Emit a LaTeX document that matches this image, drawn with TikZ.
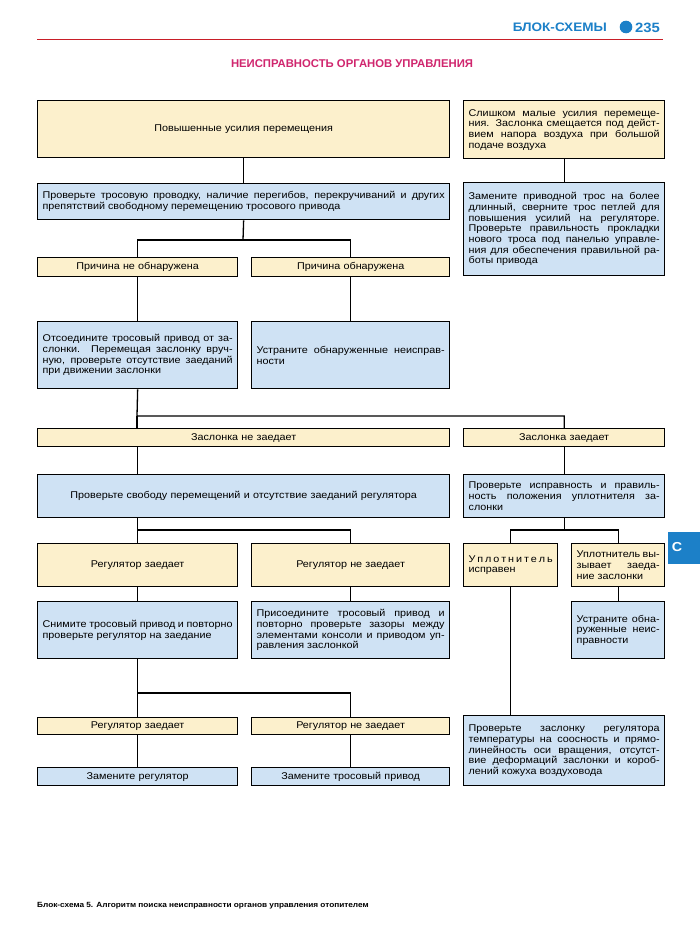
\documentclass[tikz,border=0pt]{standalone}
\usepackage{fontspec}
\setmainfont{Liberation Sans}[FakeStretch=1.1]
\newfontfamily\hdfont{Liberation Sans}
\definecolor{yel}{RGB}{252,240,204}
\definecolor{blu}{RGB}{207,226,244}
\definecolor{hblue}{RGB}{28,128,200}
\definecolor{hred}{RGB}{200,30,40}
\definecolor{hmag}{RGB}{208,38,110}
\newcommand\jl[1]{\makebox[\hsize][s]{#1}\\}
\tikzset{
  box/.style={draw=black, line width=1.3pt, inner xsep=5pt, inner ysep=2pt, anchor=north west,
    font=\fontsize{9.8}{10.7}\selectfont},
  yb/.style={box, fill=yel},
  bb/.style={box, fill=blu},
  wire/.style={line width=1.3pt}
}
\begin{document}
\begin{tikzpicture}[x=1pt,y=-1pt]
\useasboundingbox (0,0) rectangle (700,950);
\fill[white] (0,0) rectangle (700,950);
% header
\node[anchor=base east, inner sep=0, text=hblue, font=\bfseries\fontsize{12.3}{14}\selectfont] (hd) at (607,32) {БЛОК-СХЕМЫ};
\fill[hblue] (626,27) circle (6.3);
\node[anchor=base west, inner sep=0, text=hblue, font=\bfseries\fontsize{13.5}{14}\selectfont] (pg) at (635,32.5) {235};
\draw[hred, line width=1.8pt] (37,39.5) -- (663,39.5);
\node[inner sep=0, text=hmag, font=\hdfont\bfseries\fontsize{11.3}{13}\selectfont] (title) at (352,64) {НЕИСПРАВНОСТЬ ОРГАНОВ УПРАВЛЕНИЯ};
% tab
\fill[hblue] (668,532) rectangle (700,564);
\node[inner sep=0, text=white, font=\bfseries\fontsize{13}{14}\selectfont] (tab) at (677,547) {C};
% boxes
\node[yb, minimum width=412pt, minimum height=57pt, text width=402pt, align=center] (A) at (37,100) {Повышенные усилия перемещения};
\node[bb, minimum width=412pt, minimum height=36pt, text width=402pt, align=justify] (B) at (37,183) {\jl{Проверьте тросовую проводку, наличие перегибов, перекручиваний и других}препятствий свободному перемещению тросового привода};
\node[yb, minimum width=201pt, minimum height=58pt, text width=191pt, align=justify] (R1) at (463,100) {\jl{Слишком малые усилия перемеще-}\jl{ния. Заслонка смещается под дейст-}\jl{вием напора воздуха при большой}подаче воздуха};
\node[bb, minimum width=201pt, minimum height=93pt, text width=191pt, align=justify] (R2) at (463,182) {\jl{Замените приводной трос на более}\jl{длинный, сверните трос петлей для}\jl{повышения усилий на регуляторе.}\jl{Проверьте правильность прокладки}\jl{нового троса под панелью управле-}\jl{ния для обеспечения правильной ра-}боты привода};
\node[yb, minimum width=200pt, minimum height=19pt, text width=190pt, align=center] (C1) at (37,257) {Причина не обнаружена};
\node[yb, minimum width=198pt, minimum height=19pt, text width=188pt, align=center] (C2) at (251,257) {Причина обнаружена};
\node[bb, minimum width=200pt, minimum height=67pt, text width=190pt, align=justify] (D1) at (37,321) {\jl{Отсоедините тросовый привод от за-}\jl{слонки. Перемещая заслонку вруч-}\jl{ную, проверьте отсутствие заеданий}при движении заслонки};
\node[bb, minimum width=198pt, minimum height=67pt, text width=188pt, align=justify] (D2) at (251,321) {\jl{Устраните обнаруженные неисправ-}ности};
\node[yb, minimum width=412pt, minimum height=18pt, text width=402pt, align=center] (E1) at (37,428) {Заслонка не заедает};
\node[yb, minimum width=201pt, minimum height=18pt, text width=191pt, align=center] (E2) at (463,428) {Заслонка заедает};
\node[bb, minimum width=412pt, minimum height=43pt, text width=402pt, align=center] (F1) at (37,474) {Проверьте свободу перемещений и отсутствие заеданий регулятора};
\node[bb, minimum width=201pt, minimum height=43pt, text width=191pt, align=justify] (F2) at (463,474) {\jl{Проверьте исправность и правиль-}\jl{ность положения уплотнителя за-}слонки};
\node[yb, minimum width=200pt, minimum height=43pt, text width=190pt, align=center] (G1) at (37,543) {Регулятор заедает};
\node[yb, minimum width=198pt, minimum height=43pt, text width=188pt, align=center] (G2) at (251,543) {Регулятор не заедает};
\node[yb, minimum width=94pt, minimum height=43pt, text width=84pt, align=justify] (G3) at (463,543) {\makebox[\hsize][s]{У\hfill п\hfill л\hfill о\hfill т\hfill н\hfill и\hfill т\hfill е\hfill л\hfill ь}\\исправен};
\node[yb, minimum width=93pt, minimum height=43pt, text width=83pt, align=justify] (G4) at (571,543) {\jl{Уплотнитель вы-}\jl{зывает заеда-}ние заслонки};
\node[bb, minimum width=200pt, minimum height=57pt, text width=190pt, align=justify] (H1) at (37,601) {\jl{Снимите тросовый привод и повторно}проверьте регулятор на заедание};
\node[bb, minimum width=198pt, minimum height=57pt, text width=188pt, align=justify] (H2) at (251,601) {\jl{Присоедините тросовый привод и}\jl{повторно проверьте зазоры между}\jl{элементами консоли и приводом уп-}равления заслонкой};
\node[bb, minimum width=93pt, minimum height=57pt, text width=83pt, align=justify] (H4) at (571,601) {\jl{Устраните обна-}\jl{руженные неис-}правности};
\node[yb, minimum width=200pt, minimum height=17pt, text width=190pt, align=center] (I1) at (37,717) {Регулятор заедает};
\node[yb, minimum width=198pt, minimum height=17pt, text width=188pt, align=center] (I2) at (251,717) {Регулятор не заедает};
\node[bb, minimum width=200pt, minimum height=18pt, text width=190pt, align=center] (J1) at (37,767) {Замените регулятор};
\node[bb, minimum width=198pt, minimum height=18pt, text width=188pt, align=center] (J2) at (251,767) {Замените тросовый привод};
\node[bb, minimum width=201pt, minimum height=70pt, text width=191pt, align=justify] (K) at (463,715) {\jl{Проверьте заслонку регулятора}\jl{температуры на соосность и прямо-}\jl{линейность оси вращения, отсутст-}\jl{вие деформаций заслонки и короб-}лений кожуха воздуховода};
% footer
\node[anchor=west, inner sep=0, font=\bfseries\fontsize{7.5}{9}\selectfont] (foot) at (37,906) {Блок-схема 5. Алгоритм поиска неисправности органов управления отопителем};
% connectors
\coordinate (s1) at (243,240);
\coordinate (s2) at (137,416);
\coordinate (s3) at (137,530);
\coordinate (s4) at (137,693);
\draw[wire] (A.south) -- (B.north);
\draw[wire] (R1.south) -- (R2.north);
\draw[wire] (B.south) -- (s1);
\draw[wire] (C1.north) -- (C1.north |- s1) -- (C2.north |- s1) -- (C2.north);
\draw[wire] (C1.south) -- (D1.north);
\draw[wire] (C2.south) -- (D2.north);
\draw[wire] (D1.south) -- (s2) -- (s2 -| E2.north) -- (E2.north);
\draw[wire] (s2) -- (s2 |- E1.north);
\draw[wire] (E1.south -| D1.south) -- (F1.north -| D1.south);
\draw[wire] (E2.south) -- (F2.north);
\draw[wire] (F1.south -| G1.north) -- (G1.north);
\draw[wire] (G1.north |- s3) -- (s3 -| G2.north) -- (G2.north);
\draw[wire] (F2.south) -- (F2.south |- s3);
\draw[wire] (G3.north) -- (G3.north |- s3) -- (s3 -| G4.north) -- (G4.north);
\draw[wire] (G1.south) -- (H1.north);
\draw[wire] (G2.south) -- (H2.north);
\draw[wire] (G4.south) -- (H4.north);
\draw[wire] (H1.south) -- (I1.north);
\draw[wire] (s4) -- (s4 -| I2.north) -- (I2.north);
\draw[wire] (I1.south) -- (J1.north);
\draw[wire] (I2.south) -- (J2.north);
\draw[wire] (G3.south) -- (G3.south |- K.north);
\end{tikzpicture}
\end{document}
